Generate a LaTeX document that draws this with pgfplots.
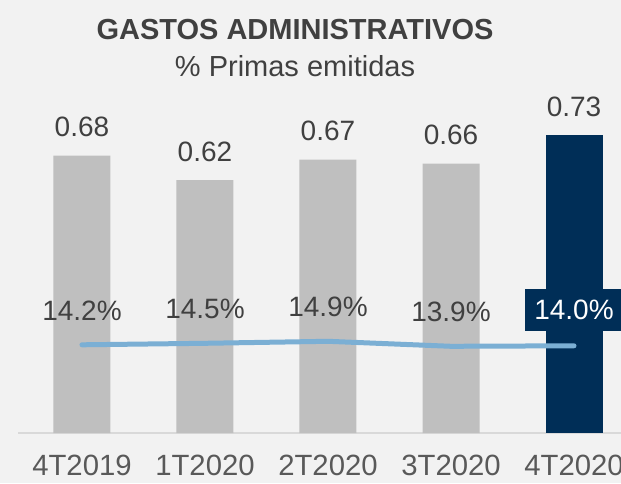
\documentclass[border=0pt]{standalone}
\usepackage{fontspec}
\setmainfont{Liberation Sans}
\usepackage{pgfplots}
\pgfplotsset{compat=1.18}
\definecolor{bg}{RGB}{242,242,242}
\definecolor{barg}{RGB}{191,191,191}
\definecolor{navy}{RGB}{0,46,87}
\definecolor{linebl}{RGB}{123,175,212}
\definecolor{txt}{RGB}{64,64,64}
\definecolor{ticktxt}{RGB}{89,89,89}
\definecolor{base}{RGB}{217,217,217}
\newcommand\bigf{\fontsize{28}{32}\selectfont}
\begin{document}
\begin{tikzpicture}
% background, also the page size (1px = 1pt)
\fill[bg,use as bounding box] (-18pt,-50pt) rectangle ++(621pt,483pt);

% bars
\begin{axis}[at={(0pt,0pt)},anchor=south west,scale only axis,
  width=603pt,height=408pt,
  xmin=-0.52,xmax=4.382,ymin=0,ymax=1,
  axis y line=none,ytick=\empty,
  axis x line*=bottom,x axis line style={draw=base,line width=1.5pt,-},
  xtick={0,...,4},xticklabels={4T2019,1T2020,2T2020,3T2020,4T2020},
  major tick length=0pt,
  xticklabel style={font=\fontsize{29.3}{33}\selectfont,text=ticktxt,inner sep=0pt,yshift=-22pt},
  ybar,bar width=57pt,clip=false,
  /pgf/number format/assume math mode=true,
  nodes near coords={\pgfmathprintnumber[fixed,fixed zerofill,precision=2]{\pgfplotspointmeta}},
  every node near coord/.append style={font=\bigf,text=txt,inner sep=0pt,anchor=south,yshift=18.5pt}]
\addplot[fill=barg,draw=none,bar shift=0pt] coordinates {(0,0.68)(1,0.62)(2,0.67)(3,0.66)};
\addplot[fill=navy,draw=none,bar shift=0pt] coordinates {(4,0.73)};
\end{axis}

% ratio line
\begin{axis}[at={(0pt,0pt)},anchor=south west,scale only axis,
  width=603pt,height=408pt,
  xmin=-0.52,xmax=4.382,ymin=-3.44,ymax=78.16,
  hide axis,clip=false,
  /pgf/number format/assume math mode=true]
\addplot[linebl,line width=5pt,line cap=round,line join=round,mark=none]
  coordinates {(0,14.2)(1,14.5)(2,14.9)(3,13.9)(4,14.0)};
\addplot[draw=none,mark=none,
  nodes near coords={\pgfmathprintnumber[fixed,fixed zerofill,precision=1]{\pgfplotspointmeta}\%},
  every node near coord/.append style={font=\bigf,text=txt,anchor=center,yshift=34pt}]
  coordinates {(0,14.2)(1,14.5)(2,14.9)(3,13.9)};
\addplot[draw=none,mark=none,
  nodes near coords={\pgfmathprintnumber[fixed,fixed zerofill,precision=1]{\pgfplotspointmeta}\%},
  every node near coord/.append style={font=\bigf,text=white,fill=navy,anchor=center,
    inner xsep=9pt,inner ysep=11pt,yshift=35.5pt}]
  coordinates {(4,14.0)};
\end{axis}

\node[font=\bfseries\fontsize{29}{33}\selectfont,text=txt] at (277pt,403pt) {GASTOS ADMINISTRATIVOS};
\node[font=\fontsize{29}{33}\selectfont,text=txt] at (277pt,367pt) {\% Primas emitidas};
\end{tikzpicture}
\end{document}
